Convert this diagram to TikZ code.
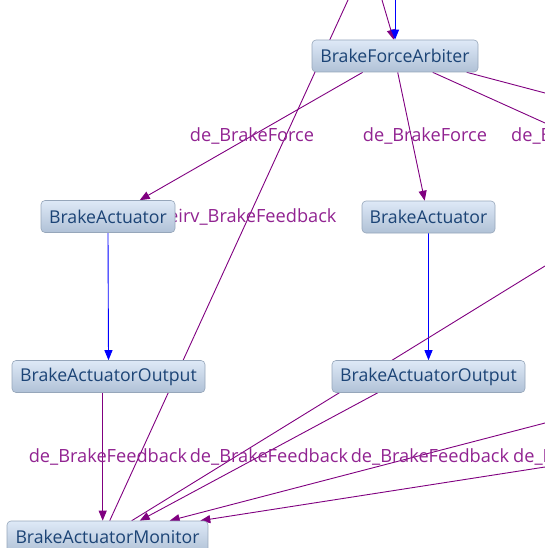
\documentclass[tikz,border=0pt]{standalone}
\usepackage{fontspec}
\setmainfont{Open Sans}
\usetikzlibrary{arrows.meta,calc}
\pgfdeclarelayer{edgelayer}
\pgfdeclarelayer{labellayer}
\pgfsetlayers{edgelayer,labellayer,main}
\definecolor{edgeC}{RGB}{128,0,128}
\definecolor{labC}{RGB}{145,35,145}
\definecolor{boxTop}{RGB}{222,233,247}
\definecolor{boxBot}{RGB}{176,193,214}
\definecolor{boxLine}{RGB}{150,166,186}
\definecolor{boxText}{RGB}{28,68,118}
\tikzset{
  box/.style={draw=boxLine, line width=0.6pt, rounded corners=4pt,
    top color=boxTop, bottom color=boxBot, text=boxText,
    font=\fontsize{17.7}{20}\selectfont, inner sep=0pt, minimum height=32pt},
  pedge/.style={draw=edgeC, line width=0.9pt},
  parrow/.style={pedge, -{Triangle[length=10pt,width=8pt]}},
  barrow/.style={draw=blue, line width=0.9pt, -{Triangle[length=10pt,width=8pt]}},
  lab/.style={text=labC, font=\fontsize{18.2}{20}\selectfont, inner sep=0pt}
}
\begin{document}
\begin{tikzpicture}[x=1pt,y=-1pt]
\useasboundingbox (0,0) rectangle (545,548);
% nodes
\node[box, minimum width=166pt] (arb) at (395,56) {BrakeForceArbiter};
\node[box, minimum width=134pt] (actL) at (108,216.5) {BrakeActuator};
\node[box, minimum width=133pt] (actR) at (428.5,217) {BrakeActuator};
\node[box, minimum width=193pt] (outL) at (108.5,376.5) {BrakeActuatorOutput};
\node[box, minimum width=193pt] (outR) at (428.5,376.5) {BrakeActuatorOutput};
\node[box, minimum width=201pt] (mon) at (107.5,537) {BrakeActuatorMonitor};
% free ends
\coordinate (tA) at (348,0);
\coordinate (tB) at (382,0);
\coordinate (tC) at (395,0);
\coordinate (rA) at (545,123);
\coordinate (rB) at (545,93);
\coordinate (rC) at (545,266);
\coordinate (rD) at (545,423);
\coordinate (rE) at (545,467);
\begin{pgfonlayer}{edgelayer}
\draw[pedge] (tA) -- ($(mon.north west)+(103,0)$);
\draw[parrow] (tB) -- ($(arb.north west)+(82,0)$);
\draw[barrow] (tC) -- (arb.north);
\draw[parrow] ($(arb.south west)+(51,0)$) -- ($(actL.north west)+(99,0)$);
\draw[parrow] ($(arb.south west)+(86,0)$) -- ($(actR.north west)+(63,0)$);
\draw[pedge] ($(arb.south west)+(121,0)$) -- (rA);
\draw[pedge] ($(arb.south west)+(155,0)$) -- (rB);
\draw[barrow] (actL.south) -- (outL.north);
\draw[barrow] (actR.south) -- (outR.north);
\draw[parrow] ($(outL.south west)+(91,0)$) -- ($(mon.north west)+(96,0)$);
\draw[pedge] (rC) -- ($(mon.north west)+(125,0)$);
\draw[parrow] ($(outR.south west)+(46,0)$) -- ($(mon.north west)+(133,0)$);
\draw[parrow] (rD) -- ($(mon.north west)+(163,0)$);
\draw[parrow] (rE) -- ($(mon.north east)+(-8,0)$);
\end{pgfonlayer}
\begin{pgfonlayer}{labellayer}
\node[lab] (l1) at (252,136) {de\_BrakeForce};
\node[lab] (l2) at (425,136) {de\_BrakeForce};
\node[lab, anchor=west] (l3) at (511,136) {de\_BrakeForce};
\node[lab, anchor=west] (l4) at (168,217) {eirv\_BrakeFeedback};
\node[lab] (l5) at (108,457) {de\_BrakeFeedback};
\node[lab] (l6) at (269,457) {de\_BrakeFeedback};
\node[lab] (l7) at (430,457) {de\_BrakeFeedback};
\node[lab, anchor=west] (l8) at (513,457) {de\_BrakeFeedback};
\end{pgfonlayer}
\end{tikzpicture}
\end{document}
